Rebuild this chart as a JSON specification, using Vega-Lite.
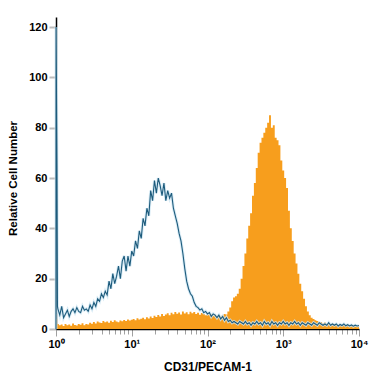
{
  "$schema": "https://vega.github.io/schema/vega-lite/v6.json",
  "width": 303,
  "height": 312,
  "autosize": {"type": "none"},
  "padding": {"left": 56, "top": 17, "right": 16, "bottom": 46},
  "background": "white",
  "config": {
    "view": {"stroke": null},
    "font": "Liberation Sans"
  },
  "data": {"values": [
    {"x": 1, "b": 0, "o": 6},
    {"x": 1.002, "b": 120, "o": 6},
    {"x": 1.03, "b": 64, "o": 4},
    {"x": 1.045, "b": 9, "o": 2},
    {"x": 1.059, "b": 8, "o": 2},
    {"x": 1.122, "b": 5.5, "o": 1.5},
    {"x": 1.189, "b": 9, "o": 1.8},
    {"x": 1.259, "b": 4.5, "o": 1.2},
    {"x": 1.334, "b": 6, "o": 2},
    {"x": 1.413, "b": 7.5, "o": 1.5},
    {"x": 1.496, "b": 5, "o": 1.8},
    {"x": 1.585, "b": 7, "o": 1.3},
    {"x": 1.679, "b": 8, "o": 2.2},
    {"x": 1.778, "b": 6.5, "o": 1.6},
    {"x": 1.884, "b": 8.5, "o": 1.4},
    {"x": 1.995, "b": 7, "o": 2},
    {"x": 2.113, "b": 6.5, "o": 1.7},
    {"x": 2.239, "b": 9, "o": 2.3},
    {"x": 2.371, "b": 7.5, "o": 1.5},
    {"x": 2.512, "b": 8, "o": 2},
    {"x": 2.661, "b": 7, "o": 1.8},
    {"x": 2.818, "b": 9.5, "o": 2.5},
    {"x": 2.985, "b": 8, "o": 2.1},
    {"x": 3.162, "b": 10.5, "o": 2.8},
    {"x": 3.35, "b": 9, "o": 2.2},
    {"x": 3.548, "b": 12, "o": 3},
    {"x": 3.758, "b": 11, "o": 2.6},
    {"x": 3.981, "b": 14, "o": 2.4},
    {"x": 4.217, "b": 12.5, "o": 3.2},
    {"x": 4.467, "b": 15, "o": 2.7},
    {"x": 4.732, "b": 13.5, "o": 3},
    {"x": 5.012, "b": 19, "o": 2.5},
    {"x": 5.309, "b": 16, "o": 3.3},
    {"x": 5.623, "b": 22, "o": 2.8},
    {"x": 5.957, "b": 18, "o": 3.5},
    {"x": 6.31, "b": 21, "o": 3},
    {"x": 6.683, "b": 25, "o": 2.7},
    {"x": 7.079, "b": 20, "o": 3.4},
    {"x": 7.499, "b": 27, "o": 3.1},
    {"x": 7.943, "b": 29, "o": 3.6},
    {"x": 8.414, "b": 23, "o": 3.2},
    {"x": 8.913, "b": 29, "o": 3.8},
    {"x": 9.441, "b": 25, "o": 3.4},
    {"x": 10, "b": 31, "o": 3.7},
    {"x": 10.59, "b": 29, "o": 4},
    {"x": 11.22, "b": 35, "o": 3.5},
    {"x": 11.89, "b": 32, "o": 4.3},
    {"x": 12.59, "b": 39, "o": 3.8},
    {"x": 13.34, "b": 36, "o": 4.1},
    {"x": 14.13, "b": 44, "o": 4.5},
    {"x": 14.96, "b": 41, "o": 3.9},
    {"x": 15.85, "b": 48, "o": 4.7},
    {"x": 16.79, "b": 45, "o": 4.2},
    {"x": 17.78, "b": 55, "o": 5},
    {"x": 18.84, "b": 51, "o": 4.4},
    {"x": 19.95, "b": 59, "o": 5.3},
    {"x": 21.13, "b": 54, "o": 4.8},
    {"x": 22.39, "b": 60, "o": 5.6},
    {"x": 23.71, "b": 57, "o": 5},
    {"x": 25.12, "b": 53, "o": 6},
    {"x": 26.61, "b": 58, "o": 5.2},
    {"x": 28.18, "b": 51, "o": 5.8},
    {"x": 29.85, "b": 55, "o": 6.3},
    {"x": 31.62, "b": 52, "o": 5.5},
    {"x": 33.5, "b": 54, "o": 6.5},
    {"x": 35.48, "b": 48, "o": 5.9},
    {"x": 37.58, "b": 45, "o": 6.8},
    {"x": 39.81, "b": 42, "o": 6.1},
    {"x": 42.17, "b": 38, "o": 6.6},
    {"x": 44.67, "b": 35, "o": 5.8},
    {"x": 47.32, "b": 30, "o": 7},
    {"x": 50.12, "b": 24, "o": 6.2},
    {"x": 53.09, "b": 19, "o": 6.7},
    {"x": 56.23, "b": 16, "o": 5.9},
    {"x": 59.57, "b": 14, "o": 6.9},
    {"x": 63.1, "b": 13, "o": 6.3},
    {"x": 66.83, "b": 10.5, "o": 6.8},
    {"x": 70.79, "b": 9, "o": 6},
    {"x": 74.99, "b": 8.5, "o": 6.5},
    {"x": 79.43, "b": 7.5, "o": 5.7},
    {"x": 84.14, "b": 8, "o": 6.4},
    {"x": 89.13, "b": 6.5, "o": 6},
    {"x": 94.41, "b": 7, "o": 5.5},
    {"x": 100, "b": 6, "o": 6.2},
    {"x": 105.9, "b": 6.5, "o": 5.6},
    {"x": 112.2, "b": 5, "o": 6},
    {"x": 118.9, "b": 6, "o": 5.3},
    {"x": 125.9, "b": 5.5, "o": 5.8},
    {"x": 133.4, "b": 4.5, "o": 5.2},
    {"x": 141.3, "b": 5.5, "o": 5.6},
    {"x": 149.6, "b": 4, "o": 5.1},
    {"x": 158.5, "b": 5, "o": 5.5},
    {"x": 167.9, "b": 3.5, "o": 6},
    {"x": 177.8, "b": 4.5, "o": 5.8},
    {"x": 188.4, "b": 3, "o": 7},
    {"x": 199.5, "b": 3.5, "o": 8.5},
    {"x": 211.3, "b": 2.5, "o": 11},
    {"x": 223.9, "b": 3, "o": 12.5},
    {"x": 237.1, "b": 2.5, "o": 13},
    {"x": 251.2, "b": 2, "o": 14},
    {"x": 266.1, "b": 3, "o": 16},
    {"x": 281.8, "b": 2.5, "o": 20},
    {"x": 298.5, "b": 2, "o": 25},
    {"x": 316.2, "b": 3, "o": 30},
    {"x": 335, "b": 2, "o": 36},
    {"x": 354.8, "b": 2.5, "o": 41},
    {"x": 375.8, "b": 1.5, "o": 46},
    {"x": 398.1, "b": 2.5, "o": 53},
    {"x": 421.7, "b": 2, "o": 58},
    {"x": 446.7, "b": 3, "o": 64},
    {"x": 473.2, "b": 2, "o": 70},
    {"x": 501.2, "b": 2.5, "o": 74},
    {"x": 530.9, "b": 1.5, "o": 76},
    {"x": 562.3, "b": 3, "o": 78},
    {"x": 595.7, "b": 2, "o": 80},
    {"x": 631, "b": 2.5, "o": 82},
    {"x": 668.3, "b": 1.5, "o": 85},
    {"x": 707.9, "b": 3, "o": 80},
    {"x": 749.9, "b": 2, "o": 81},
    {"x": 794.3, "b": 2.5, "o": 76},
    {"x": 841.4, "b": 1.5, "o": 75},
    {"x": 891.3, "b": 2.5, "o": 73},
    {"x": 944.1, "b": 2, "o": 67},
    {"x": 1000, "b": 3, "o": 63},
    {"x": 1059, "b": 2, "o": 60},
    {"x": 1122, "b": 2.5, "o": 56},
    {"x": 1189, "b": 1.5, "o": 47},
    {"x": 1259, "b": 2.5, "o": 40},
    {"x": 1334, "b": 2, "o": 35},
    {"x": 1413, "b": 3, "o": 30},
    {"x": 1496, "b": 2, "o": 26},
    {"x": 1585, "b": 2.5, "o": 22},
    {"x": 1679, "b": 1.5, "o": 18},
    {"x": 1778, "b": 2.5, "o": 15},
    {"x": 1884, "b": 2, "o": 12},
    {"x": 1995, "b": 1.5, "o": 9},
    {"x": 2113, "b": 2.5, "o": 7},
    {"x": 2239, "b": 2, "o": 5.5},
    {"x": 2371, "b": 1.5, "o": 4.5},
    {"x": 2512, "b": 2.5, "o": 4},
    {"x": 2661, "b": 2, "o": 3.5},
    {"x": 2818, "b": 1.5, "o": 3.2},
    {"x": 2985, "b": 2.5, "o": 2.6},
    {"x": 3162, "b": 2, "o": 2.8},
    {"x": 3350, "b": 1.5, "o": 2.3},
    {"x": 3548, "b": 2, "o": 2.6},
    {"x": 3758, "b": 1.5, "o": 2.1},
    {"x": 3981, "b": 2.5, "o": 2.4},
    {"x": 4217, "b": 1.5, "o": 1.9},
    {"x": 4467, "b": 2, "o": 2.2},
    {"x": 4732, "b": 1.5, "o": 1.8},
    {"x": 5012, "b": 2, "o": 2},
    {"x": 5309, "b": 1.2, "o": 1.6},
    {"x": 5623, "b": 1.8, "o": 1.9},
    {"x": 5957, "b": 1.4, "o": 1.5},
    {"x": 6310, "b": 2, "o": 1.8},
    {"x": 6683, "b": 1.3, "o": 1.4},
    {"x": 7079, "b": 1.7, "o": 1.7},
    {"x": 7499, "b": 1.2, "o": 1.3},
    {"x": 7943, "b": 1.6, "o": 1.5},
    {"x": 8414, "b": 1.1, "o": 1.2},
    {"x": 8913, "b": 1.5, "o": 1.4},
    {"x": 9441, "b": 1.2, "o": 1.1},
    {"x": 10000, "b": 1.4, "o": 1.3}
  ]},
  "encoding": {
    "x": {
      "field": "x", "type": "quantitative",
      "scale": {"type": "log", "domain": [1, 10000], "nice": false},
      "axis": {
        "title": "CD31/PECAM-1",
        "titleFont": "Liberation Sans", "titleFontSize": 12, "titleFontWeight": "bold", "titleColor": "black",
        "titleY": 41, "titleBaseline": "alphabetic",
        "values": [1,2,3,4,5,6,7,8,9,10,20,30,40,50,60,70,80,90,100,200,300,400,500,600,700,800,900,1000,2000,3000,4000,5000,6000,7000,8000,9000,10000],
        "labelExpr": "datum.value == 1 ? '10⁰' : datum.value == 10 ? '10¹' : datum.value == 100 ? '10²' : datum.value == 1000 ? '10³' : datum.value == 10000 ? '10⁴' : ''",
        "labelFont": "Liberation Sans", "labelFontSize": 11, "labelFontWeight": "bold", "labelColor": "black",
        "labelPadding": 2, "labelFlush": false, "labelOverlap": false,
        "tickColor": "#a0a0a0", "tickWidth": 1,
        "tickSize": {"condition": {"test": "datum.value == 1 || datum.value == 10 || datum.value == 100 || datum.value == 1000 || datum.value == 10000", "value": 7}, "value": 5},
        "domainColor": "black", "domainWidth": 1.5,
        "grid": false
      }
    }
  },
  "layer": [
    {
      "mark": {"type": "area", "interpolate": "step", "color": "#F79E1D", "opacity": 1},
      "encoding": {
        "y": {
          "field": "o", "type": "quantitative",
          "scale": {"domain": [0, 124], "nice": false},
          "axis": {
            "title": "Relative Cell Number",
            "titleFont": "Liberation Sans", "titleFontSize": 11.5, "titleFontWeight": "bold", "titleColor": "black",
            "titleX": -39.5, "titleY": 161, "titleBaseline": "alphabetic", "titleAngle": -90,
            "values": [0, 20, 40, 60, 80, 100, 120],
            "labelFont": "Liberation Sans", "labelFontSize": 11, "labelFontWeight": "bold", "labelColor": "black",
            "labelPadding": 2,
            "tickColor": "#bdbdbd", "tickWidth": 2, "tickSize": 7,
            "domainColor": "black", "domainWidth": 1.5,
            "grid": false
          }
        }
      }
    },
    {
      "mark": {"type": "line", "color": "#cfe7f4", "strokeWidth": 3, "opacity": 0.8},
      "encoding": {"y": {"field": "b", "type": "quantitative"}}
    },
    {
      "mark": {"type": "line", "color": "#1d5b7c", "strokeWidth": 1.1},
      "encoding": {"y": {"field": "b", "type": "quantitative"}}
    }
  ]
}
